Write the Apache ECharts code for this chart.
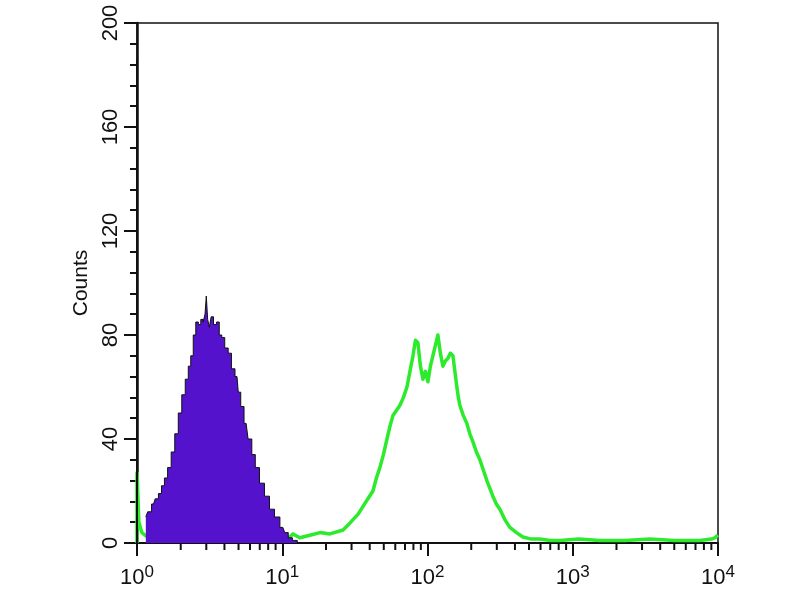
<!DOCTYPE html>
<html>
<head>
<meta charset="utf-8">
<script src="https://cdn.jsdelivr.net/npm/echarts@6/dist/echarts.min.js"></script>
<style>html,body{margin:0;padding:0;background:#fff}#c{width:800px;height:600px}</style>
</head>
<body>
<div id="c"></div>
<script>
// Fluorescence (log scale) and counts
const purpleX = [1.15,1.22,1.30,1.37,1.44,1.51,1.58,1.67,1.77,1.87,1.98,2.09,2.21,2.30,2.39,2.49,2.59,2.70,2.80,2.91,2.97,3.03,3.10,3.20,3.28,3.45,3.61,3.76,3.91,4.13,4.36,4.58,4.88,5.08,5.28,5.64,6.00,6.35,6.70,7.25,7.85,8.50,9.19,10.1,10.7,11.3,12.2,13.2];
const purpleY = [10,12,15,17,19,22,25,29,35,42,50,57,63,68,72,80,85,84,86,85,88,95,86,83,87,84,85,80,79,75,73,67,64,58,52.5,46,40,34,29,23,18,13,10,6,4,2,1,0];
const purpleEdgeX = [1, 1];
const purpleEdgeY = [0, 186];
const greenX = [1.0,1.0,1.03,1.08,1.23,2.0,4.0,8.0,10.1,10.9,11.85,13.2,15.5,18.2,21.3,26.2,28.5,30.7,33.2,35.9,38.9,42.1,44.5,47.0,49.7,52.6,55.2,57.8,61.1,64.6,68.3,72.2,75.7,79.4,82.6,85.9,89.4,93.0,96.8,100.7,104.7,108.9,113.3,117.9,122.7,127.6,132.8,138.1,143.7,149.6,154.4,159.3,163.1,167.0,176.5,186.6,195.7,205.3,217.1,229.4,242.6,256.4,268.8,281.9,297.8,315.1,340.5,369,410,453.5,520,594,700,815,1100,1537,2300,3398,5000,7499,9000,9508,10000];
const greenY = [0,27,8,4,1.5,1,1,1,3,1.5,3.5,2,3,4,3.5,5,7,9,11,14,17,20,25,29,34,40,45,49,51,53,56,60,66,72,78,77,68,63,66,62,68,72,76,80,73,68,70,71,73,72,66,60,56,53,49,46,42,39,35,32,28,24,21,18,15,13,9,6,4,2.3,1.5,1.5,1,1,1.5,1,1,1.5,1,1,1.5,2,3];
const yTicks = [0,40,80,120,160,200];
const xMajorTicks = [1,10,100,1000,10000];
const xMinorTicks = [2,3,4,5,6,7,8,9,20,30,40,50,60,70,80,90,200,300,400,500,600,700,800,900,2000,3000,4000,5000,6000,7000,8000,9000];

const zip = (a, b) => a.map((v, i) => [v, b[i]]);
const FONT = 'Arial, Liberation Sans';

const chart = echarts.init(document.getElementById('c'), null, {renderer: 'canvas'});
chart.setOption({
  animation: false,
  backgroundColor: '#fff',
  grid: {left: 137, right: 82, top: 23, bottom: 57, show: true, borderColor: '#111', borderWidth: 1.5, backgroundColor: 'transparent'},
  xAxis: {
    type: 'log', logBase: 10, min: xMajorTicks[0], max: xMajorTicks[xMajorTicks.length - 1],
    axisLine: {show: true, onZero: false, lineStyle: {color: '#111', width: 2}},
    axisTick: {show: true, inside: false, length: 13, lineStyle: {color: '#111', width: 2}},
    splitLine: {show: false},
    axisLabel: {
      margin: 21, color: '#111', fontFamily: FONT, fontSize: 22,
      formatter: v => '10{s|' + Math.round(Math.log10(v)) + '}',
      rich: {s: {fontSize: 17, verticalAlign: 'top', padding: [0, 0, 10, 0], color: '#111', fontFamily: FONT}}
    }
  },
  yAxis: {
    type: 'value', min: yTicks[0], max: yTicks[yTicks.length - 1], interval: 40,
    name: 'Counts', nameLocation: 'middle', nameGap: 44, nameRotate: 90,
    nameTextStyle: {color: '#111', fontSize: 21, fontFamily: FONT},
    axisLine: {show: true, lineStyle: {color: '#111', width: 2.5}},
    axisTick: {show: true, length: 13, lineStyle: {color: '#111', width: 2}},
    minorTick: {show: true, splitNumber: 5, length: 7, lineStyle: {color: '#111', width: 2}},
    splitLine: {show: false},
    axisLabel: {rotate: 90, margin: 15, color: '#111', fontSize: 22, fontFamily: FONT}
  },
  series: [
    {
      type: 'custom', name: 'minorTicks', silent: true, clip: false, z: 5,
      data: xMinorTicks.map(v => [v, 0]),
      renderItem: (params, api) => {
        const p = api.coord([api.value(0), 0]);
        return {type: 'line', shape: {x1: p[0], y1: p[1], x2: p[0], y2: p[1] + 7}, style: {stroke: '#111', lineWidth: 2}};
      }
    },
    {
      type: 'line', name: 'green', data: zip(greenX, greenY), showSymbol: false, symbol: 'none', z: 2,
      lineStyle: {color: '#2CEA2C', width: 3.5, join: 'round'}
    },
    {
      type: 'line', name: 'purple', data: zip(purpleX, purpleY), showSymbol: false, symbol: 'none', step: 'middle', z: 3,
      lineStyle: {color: '#111', width: 1},
      areaStyle: {color: '#5412CC', opacity: 1}
    },
    {
      type: 'line', name: 'purpleEdge', data: zip(purpleEdgeX, purpleEdgeY), showSymbol: false, symbol: 'none', z: 4,
      lineStyle: {color: '#111', width: 2}
    }
  ]
});
</script>
</body>
</html>
